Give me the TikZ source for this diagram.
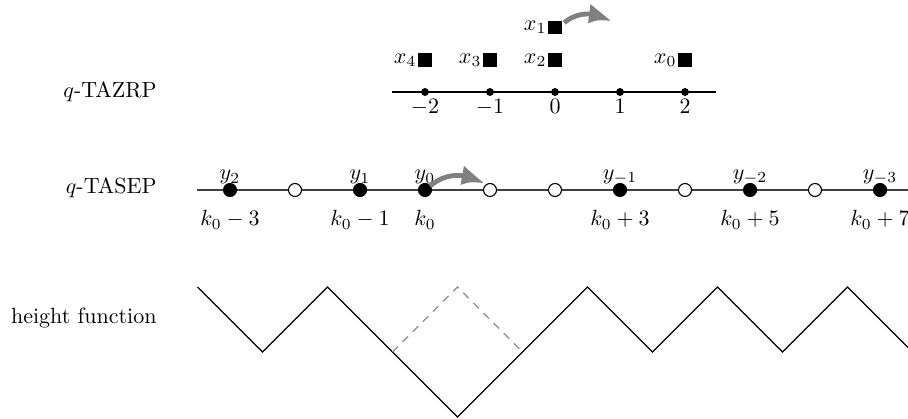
\documentclass[tikz,border=0pt]{standalone}
\usetikzlibrary{arrows.meta,bending}
\begin{document}
\begin{tikzpicture}[x=0.4545pt,y=-0.4545pt,
  rowlabel/.style={anchor=east,inner sep=0pt},
  lattice/.style={circle,fill=black,inner sep=0pt,minimum size=3.6pt},
  pile/.style={fill=black,inner sep=0pt,minimum size=6pt},
  particle/.style={circle,draw=black,fill=black,line width=0.5pt,inner sep=0pt,minimum size=5.9pt},
  hole/.style={circle,draw=black,fill=white,line width=0.5pt,inner sep=0pt,minimum size=5.9pt},
  jump/.style={draw=black!50,line width=2.2pt,-{Latex[length=11pt,width=9pt,bend]}},
  track/.style={draw=black!75,line width=0.8pt},
  profile/.style={draw=black,line width=0.6pt},
  moved/.style={draw=black!45,line width=0.6pt,dash pattern=on 3.5pt off 3pt},
  toplab/.style={inner sep=0pt},
  botlab/.style={inner sep=1pt}]
\useasboundingbox (0,0) rectangle (908,419);

% row labels
\node[rowlabel] (lzr) at (157,92) {$q$-TAZRP};
\node[rowlabel] (lex) at (157,188) {$q$-TASEP};
\node[rowlabel] (lhf) at (157,318) {height function};

% q-TAZRP: lattice with stacked particles
\draw[line width=0.6pt] (392,92) -- (716,92);
\foreach \n/\k/\t in {m2/-2/$-2$, m1/-1/$-1$, z0/0/$0$, p1/1/$1$, p2/2/$2$}{
  \node[lattice] (s\n) at ({555+65*\k},92) {};
  \node[botlab,anchor=north] at ({555+65*\k},97) {\t};
}
\node[pile] (x4) at (425,60) {};
\node[pile] (x3) at (490,60) {};
\node[pile] (x2) at (555,60) {};
\node[pile] (x1) at (555,27.5) {};
\node[pile] (x0) at (685,60) {};
\foreach \n/\t in {x4/x_4,x3/x_3,x2/x_2,x1/x_1,x0/x_0}
  \node[anchor=east,inner sep=0.5pt] at (\n.west) {$\t$};
\coordinate (x1dest) at (611,23);
\draw[jump] ([xshift=1pt,yshift=-1pt]x1.north east) to[bend left=40] (x1dest);

% q-TASEP: particles and holes
\draw[track] (197,190) -- (908,190);
\node[particle] (k0m3) at (230,190) {};
\node[hole]     (k0m2) at (295,190) {};
\node[particle] (k0m1) at (360,190) {};
\node[particle] (k0)   at (425,190) {};
\node[hole]     (k0p1) at (490,190) {};
\node[hole]     (k0p2) at (555,190) {};
\node[particle] (k0p3) at (620,190) {};
\node[hole]     (k0p4) at (685,190) {};
\node[particle] (k0p5) at (750,190) {};
\node[hole]     (k0p6) at (815,190) {};
\node[particle] (k0p7) at (880,190) {};
\foreach \n/\t in {k0m3/y_2,k0m1/y_1,k0/y_0,k0p3/y_{-1},k0p5/y_{-2},k0p7/y_{-3}}
  \node[toplab,anchor=south] at ([yshift=-0.8pt]\n.north) {$\t$};
\foreach \n/\t in {k0m3/k_0-3,k0m1/k_0-1,k0/k_0,k0p3/k_0+3,k0p5/k_0+5,k0p7/k_0+7}
  \node[botlab,anchor=north] at ([yshift=-5pt]\n.south) {$\t$};
\draw[jump] ([yshift=-0.5pt]k0.north east) to[bend left=40] ([xshift=-0.5pt]k0p1.north west);

% height function
\draw[profile] (197.5,287) -- (262.5,352) -- (327.5,287) -- (457.5,417)
  -- (587.5,287) -- (652.5,352) -- (717.5,287) -- (782.5,352)
  -- (847.5,287) -- (908,347.5);
\draw[moved] (392.5,352) -- (457.5,287) -- (522.5,352);
\end{tikzpicture}
\end{document}
